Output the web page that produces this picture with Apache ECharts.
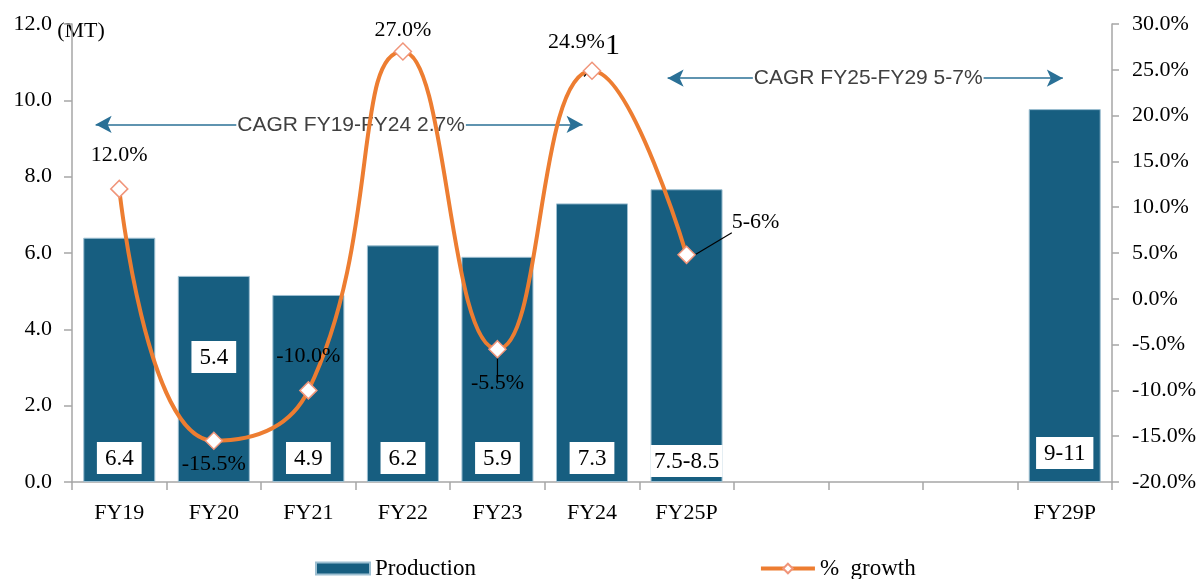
<!DOCTYPE html>
<html>
<head>
<meta charset="utf-8">
<script src="https://cdn.jsdelivr.net/npm/echarts@6/dist/echarts.min.js"></script>
<style>
  html, body { margin: 0; padding: 0; background: #fff; }
  #main { width: 1201px; height: 579px; }
</style>
</head>
<body>
<div id="main"></div>
<script>
// categories (three blank slots between FY25P and FY29P)
const categories = ['FY19', 'FY20', 'FY21', 'FY22', 'FY23', 'FY24', 'FY25P', '', '', '', 'FY29P'];
// production, MT
const production = [6.4, 5.4, 4.9, 6.2, 5.9, 7.3, 7.67, null, null, null, 9.77];
const productionText = ['6.4', '5.4', '4.9', '6.2', '5.9', '7.3', '7.5-8.5', '', '', '', '9-11'];
// % growth
const growth = [12.0, -15.5, -10.0, 27.0, -5.5, 24.9, 4.8, null, null, null, null];
const growthText = ['12.0%', '-15.5%', '-10.0%', '27.0%', '-5.5%', '24.9%', '5-6%'];
// CAGR arrows: [from index, to index, level (MT)]
const cagrNotes = [
    { text: 'CAGR FY19-FY24 2.7%', from: -0.25, to: 4.9, level: 9.37 },
    { text: 'CAGR FY25-FY29 5-7%', from: 5.8, to: 9.98, level: 10.58 }
];

const SERIF = '"Liberation Serif", "Times New Roman", serif';
const SANS = '"Liberation Sans", Arial, sans-serif';
const barColor = '#175E80';
const lineColor = '#ED7D31';
const axisColor = '#A6A6A6';

const chart = echarts.init(document.getElementById('main'));

// per-bar label tweaks
const barLabelTweak = {
    1: { distance: 109 },
    6: { distance: 5, width: 72, padding: [5, 0, 4, 0] },
    10: { distance: 13 }
};
const barData = production.map((v, i) => {
    if (v == null) return '-';
    const item = { value: v };
    if (barLabelTweak[i]) item.label = barLabelTweak[i];
    return item;
});

// per-point label tweaks for growth line
const growthLabelTweak = {
    0: { position: 'top', distance: 13 },
    1: { position: 'bottom', distance: 3 },
    2: { position: 'top', distance: 14 },
    3: { position: 'top', distance: 1 },
    4: { position: 'bottom', distance: 14 },
    5: { position: 'top', distance: 0, offset: [-8, 0] },
    6: { position: 'right', distance: 36, offset: [0, -33] }
};
const growthData = growth.map((v, i) => {
    if (v == null) return '-';
    const item = { value: v, label: growthLabelTweak[i] };
    if (i >= 4) item.labelLine = { show: true };
    return item;
});

const option = {
    animation: false,
    textStyle: { fontFamily: SERIF },
    grid: { left: 72, right: 89, top: 24, bottom: 97, outerBoundsMode: 'none' },
    legend: {
        top: 552,
        left: 310,
        itemGap: 283,
        itemWidth: 54,
        itemHeight: 12,
        textStyle: { fontFamily: SERIF, fontSize: 23, color: '#000' },
        data: [
            { name: 'Production', icon: 'rect' },
            { name: '%  growth', lineStyle: { width: 4 } }
        ]
    },
    xAxis: [
        {
            type: 'category',
            data: categories,
            axisLine: { lineStyle: { color: axisColor, width: 1.5 } },
            axisTick: { show: true, length: 8, lineStyle: { color: axisColor, width: 1.5 } },
            axisLabel: { color: '#000', fontSize: 22, fontFamily: SERIF, margin: 20, interval: 0 }
        },
        {
            type: 'value',
            min: -0.5,
            max: 10.5,
            show: false
        }
    ],
    yAxis: [
        {
            type: 'value',
            min: 0,
            max: 12,
            interval: 2,
            name: '(MT)',
            nameLocation: 'end',
            nameGap: -18,
            nameMoveOverlap: false,
            nameTextStyle: { color: '#000', fontSize: 22, fontFamily: SERIF, align: 'center', padding: [0, 0, 0, 18] },
            splitLine: { show: false },
            axisLine: { show: true, onZero: false, lineStyle: { color: axisColor, width: 1.5 } },
            axisTick: { show: true, length: 8, lineStyle: { color: axisColor, width: 1.5 } },
            axisLabel: { color: '#000', fontSize: 22, fontFamily: SERIF, margin: 20, formatter: v => v.toFixed(1) }
        },
        {
            type: 'value',
            min: -20,
            max: 30,
            interval: 5,
            splitLine: { show: false },
            axisLine: { show: true, onZero: false, lineStyle: { color: axisColor, width: 1.5 } },
            axisTick: { show: true, length: 7, lineStyle: { color: axisColor, width: 1.5 } },
            axisLabel: { color: '#000', fontSize: 22, fontFamily: SERIF, margin: 20, formatter: v => v.toFixed(1) + '%' }
        }
    ],
    series: [
        {
            name: 'Production',
            type: 'bar',
            yAxisIndex: 0,
            barWidth: 72,
            data: barData,
            itemStyle: { color: barColor, borderColor: '#9DBFD1', borderWidth: 1 },
            label: {
                show: true,
                position: 'insideBottom',
                distance: 8,
                backgroundColor: '#fff',
                padding: [5, 8, 4, 8],
                color: '#000',
                fontSize: 23,
                fontFamily: SERIF,
                formatter: p => productionText[p.dataIndex]
            }
        },
        {
            name: '%  growth',
            type: 'line',
            yAxisIndex: 1,
            smooth: true,
            data: growthData,
            symbol: 'diamond',
            symbolSize: 17,
            lineStyle: { color: lineColor, width: 4 },
            itemStyle: { color: '#fff', borderColor: '#F0957A', borderWidth: 1.5 },
            labelLine: { show: false, lineStyle: { color: '#000', width: 1.2 } },
            label: {
                show: true,
                color: '#000',
                fontSize: 22,
                fontFamily: SERIF,
                formatter: p => p.dataIndex === 5
                    ? '{a|' + growthText[5] + '}{b|1}'
                    : growthText[p.dataIndex],
                rich: {
                    a: { fontSize: 22, fontFamily: SERIF, color: '#000', padding: [0, 0, 8, 0] },
                    b: { fontSize: 30, fontFamily: SERIF, color: '#000' }
                }
            },
            z: 5
        },
        {
            name: 'cagr',
            type: 'line',
            xAxisIndex: 1,
            yAxisIndex: 0,
            data: [],
            silent: true,
            markLine: {
                silent: true,
                symbol: ['arrow', 'arrow'],
                symbolSize: [13, 16],
                lineStyle: { color: '#2A7096', width: 1.5, type: 'solid' },
                itemStyle: { color: barColor },
                label: {
                    show: true,
                    position: 'middle',
                    distance: -11,
                    color: '#404040',
                    fontFamily: SANS,
                    fontSize: 21,
                    backgroundColor: '#fff',
                    padding: [0, 1, 0, 1]
                },
                data: cagrNotes.map((n, i) => [
                    { coord: [n.from, n.level], name: n.text, label: { formatter: n.text, offset: i === 0 ? [12, 0] : [3, 0] } },
                    { coord: [n.to, n.level] }
                ])
            }
        }
    ]
};

chart.setOption(option);
</script>
</body>
</html>
